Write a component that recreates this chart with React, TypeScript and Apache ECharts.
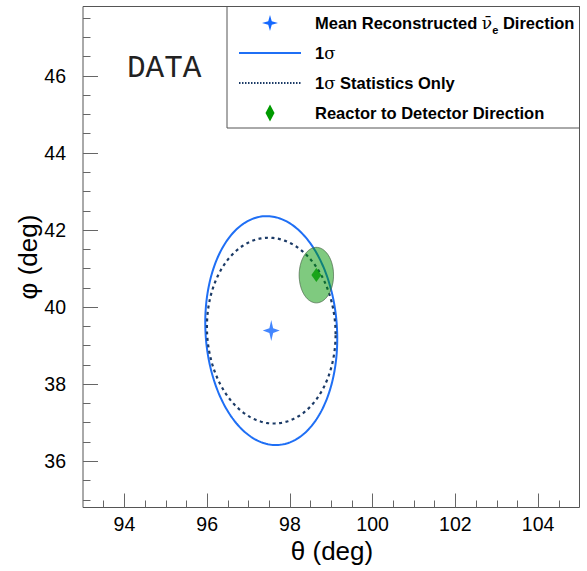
import React, { useEffect, useRef } from "react";
import * as echarts from "echarts";

// Axis ranges and ticks
const xRange = [93, 105];
const yRange = [34.8, 47.8];
const xMajorTicks = [94, 96, 98, 100, 102, 104];
const xMinorTicks = [93.5, 94, 94.5, 95, 95.5, 96, 96.5, 97, 97.5, 98, 98.5, 99, 99.5, 100, 100.5, 101, 101.5, 102, 102.5, 103, 103.5, 104, 104.5];
const yMajorTicks = [36, 38, 40, 42, 44, 46];
const yMinorTicks = [35, 35.5, 36, 36.5, 37, 37.5, 38, 38.5, 39, 39.5, 40, 40.5, 41, 41.5, 42, 42.5, 43, 43.5, 44, 44.5, 45, 45.5, 46, 46.5, 47, 47.5];

// Mean reconstructed direction (theta, phi) and 1 sigma contours
const meanDirection = [97.55, 39.39];
const sigmaTotal = [1.595, 2.97];
const sigmaStatOnly = [1.555, 2.41];
const correlationTotal = [-0.07];
const correlationStat = [-0.04];

// Reactor to detector direction and its uncertainty
const reactorDirection = [98.64, 40.83];
const reactorSigma = [0.415, 0.72];
const reactorCorrelation = [0];

const legendLabels = [
  "{b|Mean Reconstructed }{nu|ν̄}{sub|e}{b| Direction}",
  "{b|1}{s|σ}",
  "{b|1}{s|σ}{b| Statistics Only}",
  "{b|Reactor to Detector Direction}",
];

const BLUE = "#1f6ff5";
const STAR_BLUE = "#1468ff";
const NAVY = "#1b3a66";
const GREEN = "#009a00";
const SANS = '"Liberation Sans", Arial, Helvetica, sans-serif';

function ellipseRenderer(style: any) {
  return (params: any, api: any) => {
    const cx = api.value(0);
    const cy = api.value(1);
    const sx = api.value(2);
    const sy = api.value(3);
    const rho = api.value(4);
    const r = Math.sqrt(1 - rho * rho);
    const n = 240;
    const pts: number[][] = [];
    for (let i = 0; i < n; i++) {
      const t = (2 * Math.PI * i) / n;
      pts.push(api.coord([cx + sx * Math.cos(t), cy + sy * (rho * Math.cos(t) + r * Math.sin(t))]));
    }
    return { type: "polygon", shape: { points: pts }, style: { ...style } };
  };
}

function starPoints(cx: number, cy: number, w: number, h: number) {
  const hw = w / 2;
  const hh = h / 2;
  const k = 0.22;
  return [
    [cx, cy - hh],
    [cx + hw * k, cy - hh * k],
    [cx + hw, cy],
    [cx + hw * k, cy + hh * k],
    [cx, cy + hh],
    [cx - hw * k, cy + hh * k],
    [cx - hw, cy],
    [cx - hw * k, cy - hh * k],
  ];
}

export default function App() {
  const ref = useRef<HTMLDivElement>(null);
  useEffect(() => {
    if (!ref.current) return;
    const chart = echarts.init(ref.current, null, { renderer: "svg" });

    const tickStyle = { color: "#666", width: 1 };
    const labelStyle = { color: "#000", fontSize: 19.5, fontFamily: SANS };

    const richLegend = {
      b: { fontSize: 16.5, fontWeight: "bold", fontFamily: SANS, color: "#000", lineHeight: 20 },
      nu: { fontSize: 17, fontFamily: '"DejaVu Serif", serif', color: "#000", lineHeight: 20 },
      sub: { fontSize: 11, fontFamily: SANS, fontWeight: "bold", color: "#000", lineHeight: 25, verticalAlign: "bottom" },
      s: { fontSize: 16.5, fontFamily: '"DejaVu Serif", serif', color: "#000", lineHeight: 20 },
    };

    const legendY = [23, 53, 83, 113];

    chart.setOption({
      animation: false,
      backgroundColor: "#fff",
      grid: {
        left: 83,
        top: 6.5,
        right: 7.5,
        bottom: 63.5,
        show: true,
        borderColor: "#555",
        borderWidth: 1,
        backgroundColor: "transparent",
      },
      xAxis: [
        {
          type: "value",
          min: xRange[0],
          max: xRange[1],
          position: "bottom",
          axisLine: { show: false },
          splitLine: { show: false },
          axisTick: { inside: true, length: 14, customValues: xMajorTicks, lineStyle: tickStyle },
          axisLabel: { ...labelStyle, customValues: xMajorTicks, margin: 6 },
        },
        {
          type: "value",
          min: xRange[0],
          max: xRange[1],
          position: "bottom",
          axisLine: { show: false },
          splitLine: { show: false },
          axisTick: { inside: true, length: 7, customValues: xMinorTicks, lineStyle: tickStyle },
          axisLabel: { show: false },
        },
      ],
      yAxis: [
        {
          type: "value",
          min: yRange[0],
          max: yRange[1],
          position: "left",
          axisLine: { show: false },
          splitLine: { show: false },
          axisTick: { inside: true, length: 15, customValues: yMajorTicks, lineStyle: tickStyle },
          axisLabel: { ...labelStyle, customValues: yMajorTicks, margin: 17 },
        },
        {
          type: "value",
          min: yRange[0],
          max: yRange[1],
          position: "left",
          axisLine: { show: false },
          splitLine: { show: false },
          axisTick: { inside: true, length: 7.5, customValues: yMinorTicks, lineStyle: tickStyle },
          axisLabel: { show: false },
        },
      ],
      series: [
        {
          type: "custom",
          name: "1σ",
          xAxisIndex: 0,
          yAxisIndex: 0,
          z: 2,
          encode: { x: 0, y: 1 },
          data: [[meanDirection[0], meanDirection[1], sigmaTotal[0], sigmaTotal[1], correlationTotal[0]]],
          renderItem: ellipseRenderer({ fill: "none", stroke: BLUE, lineWidth: 2 }),
          silent: true,
        },
        {
          type: "custom",
          name: "1σ Statistics Only",
          xAxisIndex: 0,
          yAxisIndex: 0,
          z: 3,
          encode: { x: 0, y: 1 },
          data: [[meanDirection[0], meanDirection[1], sigmaStatOnly[0], sigmaStatOnly[1], correlationStat[0]]],
          renderItem: ellipseRenderer({ fill: "none", stroke: NAVY, lineWidth: 2.2, lineDash: [3, 3.5] }),
          silent: true,
        },
        {
          type: "custom",
          name: "Reactor uncertainty",
          xAxisIndex: 0,
          yAxisIndex: 0,
          z: 4,
          encode: { x: 0, y: 1 },
          data: [[reactorDirection[0], reactorDirection[1], reactorSigma[0], reactorSigma[1], reactorCorrelation[0]]],
          renderItem: ellipseRenderer({ fill: "rgba(0,150,0,0.5)", stroke: "#4a6a4a", lineWidth: 0.8 }),
          silent: true,
        },
        {
          type: "scatter",
          name: "Mean Reconstructed Direction",
          z: 5,
          symbol: "path://M10,0 L12.2,7.8 L20,10 L12.2,12.2 L10,20 L7.8,12.2 L0,10 L7.8,7.8 Z",
          symbolSize: [17, 21],
          itemStyle: { color: STAR_BLUE },
          data: [meanDirection],
          silent: true,
        },
        {
          type: "scatter",
          name: "Reactor to Detector Direction",
          z: 6,
          symbol: "diamond",
          symbolSize: [10, 14],
          itemStyle: { color: GREEN },
          data: [reactorDirection],
          silent: true,
        },
      ],
      graphic: [
        {
          type: "text",
          x: 127,
          y: 68,
          style: { text: "DATA", font: '31px "Liberation Mono", monospace', fill: "#222", verticalAlign: "middle", align: "left" },
        },
        {
          type: "text",
          x: 332,
          y: 551,
          style: { text: "θ (deg)", font: `26px ${SANS}`, fill: "#000", align: "center", verticalAlign: "middle" },
        },
        {
          type: "text",
          x: 28,
          y: 257,
          rotation: Math.PI / 2,
          style: { text: "φ (deg)", font: `26px ${SANS}`, fill: "#000", align: "center", verticalAlign: "middle" },
        },
        {
          type: "rect",
          z: 10,
          shape: { x: 227, y: 6.5, width: 352.5, height: 121.5 },
          style: { fill: "#fff", stroke: "#555", lineWidth: 1 },
        },
        {
          type: "polygon",
          z: 11,
          shape: { points: starPoints(270, legendY[0], 16, 16) },
          style: { fill: STAR_BLUE },
        },
        {
          type: "line",
          z: 11,
          shape: { x1: 239, y1: legendY[1], x2: 301, y2: legendY[1] },
          style: { stroke: BLUE, lineWidth: 2 },
        },
        {
          type: "line",
          z: 11,
          shape: { x1: 239, y1: legendY[2], x2: 301, y2: legendY[2] },
          style: { stroke: NAVY, lineWidth: 2, lineDash: [1.5, 1.5] },
        },
        {
          type: "polygon",
          z: 11,
          shape: {
            points: [
              [270, legendY[3] - 8.5],
              [274.5, legendY[3]],
              [270, legendY[3] + 8.5],
              [265.5, legendY[3]],
            ],
          },
          style: { fill: GREEN },
        },
        ...legendLabels.map((t, i) => ({
          type: "text",
          z: 11,
          x: 315,
          y: legendY[i],
          style: { text: t, rich: richLegend, verticalAlign: "middle", align: "left" },
        })),
      ],
    });
    return () => chart.dispose();
  }, []);
  return <div ref={ref} style={{ position: "fixed", left: 0, top: 0, width: 587, height: 571 }} />;
}
